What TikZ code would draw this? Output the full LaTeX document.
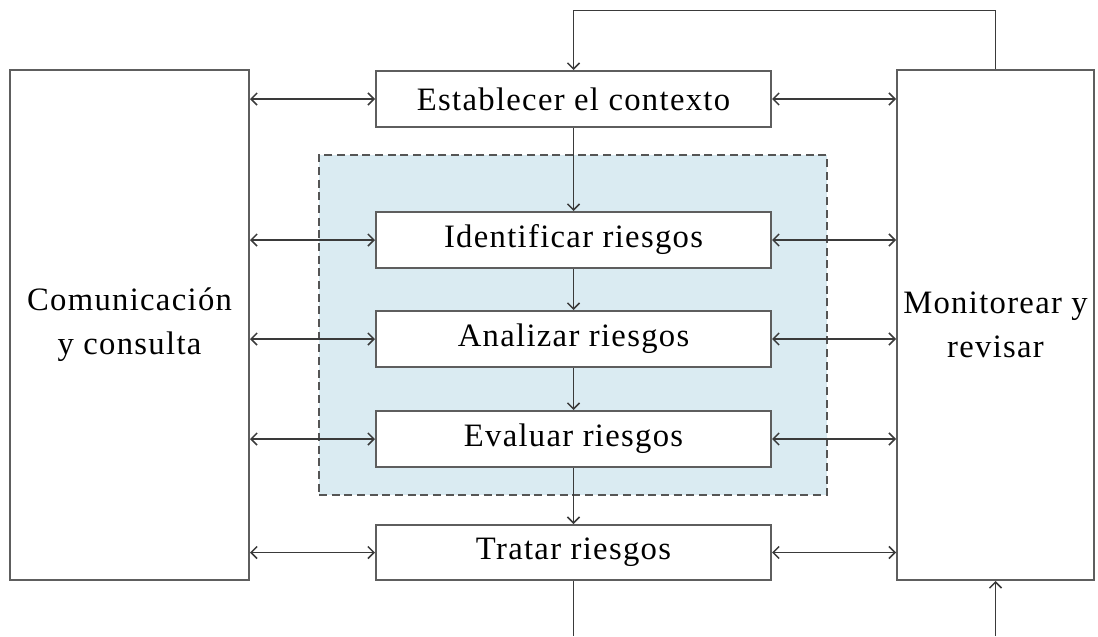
\documentclass[tikz,border=0pt]{standalone}
\usepackage{fontspec}
\setmainfont[LetterSpace=4]{Liberation Serif}
\usetikzlibrary{arrows.meta,calc}
\definecolor{boxline}{HTML}{5E5E5E}
\definecolor{arrline}{HTML}{3A3A3A}
\definecolor{zonefill}{HTML}{DAEBF2}
\definecolor{zoneline}{HTML}{555555}
\begin{document}
\begin{tikzpicture}[x=0.75pt,y=-0.75pt,
  every node/.style={font=\fontsize{24.5}{33}\selectfont, text=black},
  box/.style={draw=boxline, line width=1.5pt, fill=white, rectangle, inner sep=0pt, align=center},
  stagebox/.style={box, minimum width=296.25pt, minimum height=42pt},
  sidebox/.style={box, minimum height=382.5pt},
  zonebox/.style={draw=zoneline, fill=zonefill, dashed, dash pattern=on 6pt off 3.5pt, line width=1pt, minimum width=381pt, minimum height=255pt, inner sep=0pt},
  link/.style={draw=arrline, line width=1.1pt, -{Straight Barb[length=4.5pt,width=9pt]}},
  duo/.style={draw=arrline, line width=1.1pt, {Straight Barb[length=4.5pt,width=9pt]}-{Straight Barb[length=4.5pt,width=9pt]}},
  plain/.style={draw=arrline, line width=1.1pt}]
\useasboundingbox (0,0) rectangle (1098,636);

% shaded block around the risk assessment steps
\node[zonebox] (zone) at (573,325) {};

% side columns
\node[sidebox, minimum width=179.25pt] (comm) at (129.5,325) {Comunicación\\y consulta};
\node[sidebox, minimum width=147.75pt] (mon) at (995.5,325) {Monitorear y\\revisar};

% process steps
\node[stagebox] (est) at (573.5,99) {Establecer el contexto};
\node[stagebox] (ide) at (573.5,240) {Identificar riesgos};
\node[stagebox] (ana) at (573.5,339) {Analizar riesgos};
\node[stagebox] (eva) at (573.5,439) {Evaluar riesgos};
\node[stagebox, minimum height=41.25pt] (tra) at (573.5,552.5) {Tratar riesgos};

% helper points for the feedback loops
\coordinate (top) at (0,10.5);
\coordinate (bottom) at (0,636);

% main flow
\draw[link] (est) -- (ide);
\draw[link] (ide) -- (ana);
\draw[link] (ana) -- (eva);
\draw[link] (eva) -- (tra);

% links to communication and monitoring
\foreach \s in {est,ide,ana,eva,tra}{
  \draw[duo] (comm.east |- \s) -- (\s.west);
  \draw[duo] (\s.east) -- (mon.west |- \s);
}

% feedback loops
\draw[link] (mon.north) -- (mon.north |- top) -- (est.north |- top) -- (est.north);
\draw[plain] (tra.south) -- (tra.south |- bottom);
\draw[link] (mon.south |- bottom) -- (mon.south);
\end{tikzpicture}
\end{document}
